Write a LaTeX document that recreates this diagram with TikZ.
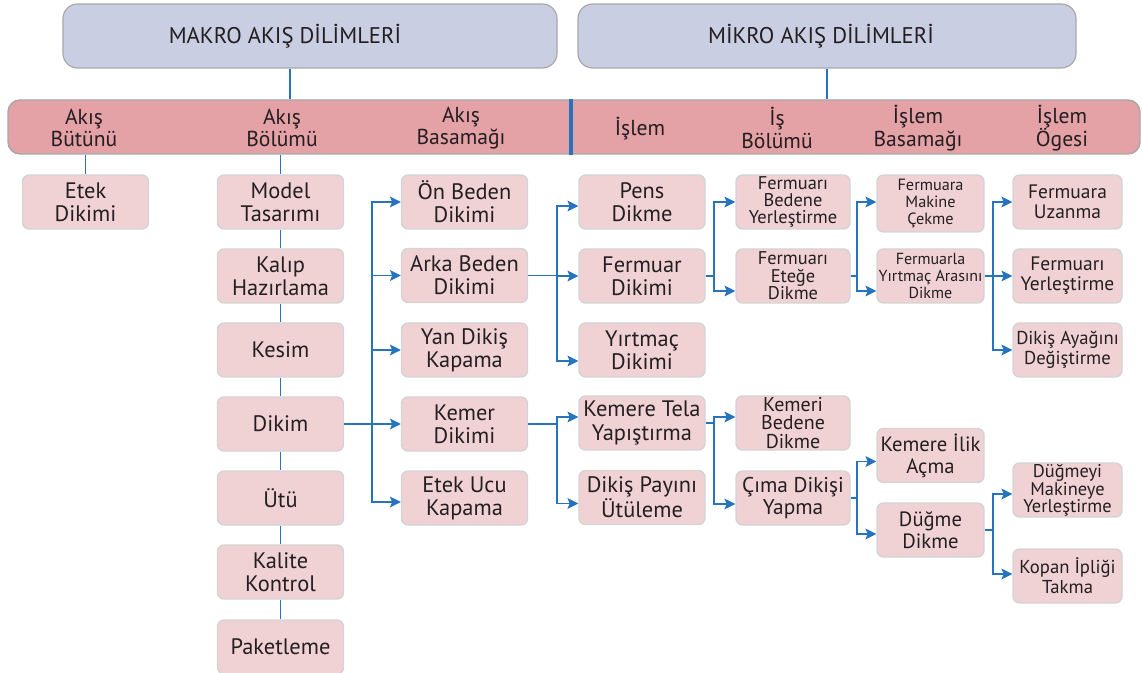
\documentclass[tikz,border=0pt]{standalone}
\usepackage{fontspec}
\setmainfont{PT Sans}
\usetikzlibrary{arrows.meta,calc}
\definecolor{topfill}{HTML}{C9CEE3}
\definecolor{barfill}{HTML}{E4A1A6}
\definecolor{boxfill}{HTML}{F1D2D4}
\definecolor{edge}{HTML}{D4D4D4}
\definecolor{hdredge}{HTML}{A8A8A8}
\definecolor{lineblue}{HTML}{2673BF}
\definecolor{txt}{HTML}{231F20}
\begin{document}
\begin{tikzpicture}[x=0.75pt,y=-0.75pt,
  bx/.style={draw=edge, line width=1.1pt, fill=boxfill, rounded corners=5pt, inner sep=0pt, align=center, text=txt, minimum height=40.5pt},
  wA/.style={minimum width=94.5pt},
  wE/.style={minimum width=85.5pt},
  wF/.style={minimum width=80.25pt},
  wG/.style={minimum width=81.75pt},
  fL/.style={font=\fontsize{16.8}{17.3}\selectfont},
  fK/.style={font=\fontsize{15.5}{16.5}\selectfont},
  fM/.style={font=\fontsize{14.6}{15.2}\selectfont},
  fS/.style={font=\fontsize{13.8}{13}\selectfont},
  fT/.style={font=\fontsize{12.2}{13}\selectfont},
  lbl/.style={align=center, text=txt, inner sep=0pt, font=\fontsize{16.2}{17}\selectfont},
  conn/.style={draw=lineblue, line width=1.1pt},
  arr/.style={draw=lineblue, line width=1.4pt, -{Stealth[length=8pt,width=8pt,inset=1.5pt]}}
]
\useasboundingbox (0,0) rectangle (1142,673);

% header boxes
\node[draw=hdredge, line width=0.9pt, fill=topfill, rounded corners=11pt, minimum width=370.5pt, minimum height=48pt, inner sep=0pt] (makro) at (310,36) {};
\node[lbl, font=\fontsize{17}{18}\selectfont] (makrot) at (285,36) {MAKRO AKIŞ DİLİMLERİ};
\node[draw=hdredge, line width=0.9pt, fill=topfill, rounded corners=11pt, minimum width=373.5pt, minimum height=48pt, inner sep=0pt] (mikro) at (827,36) {};
\node[lbl, font=\fontsize{17}{18}\selectfont] (mikrot) at (821,36) {MİKRO AKIŞ DİLİMLERİ};

% bar
\node[draw=hdredge, line width=1.1pt, fill=barfill, rounded corners=9pt, minimum width=849pt, minimum height=40.5pt, inner sep=0pt] (bar) at (574,127) {};
\coordinate (dv) at (571,0);
\draw[lineblue, line width=3pt] (bar.north -| dv) -- (bar.south -| dv);
\node[lbl] (h1) at (84,128) {Akış\\Bütünü};
\node[lbl] (h2) at (282,128) {Akış\\Bölümü};
\node[lbl] (h3) at (461,128) {Akış\\Basamağı};
\node[lbl] (h4) at (640,129) {İşlem};
\node[lbl] (h5) at (777,128) {İş\\Bölümü};
\node[lbl] (h6) at (918,128) {İşlem\\Basamağı};
\node[lbl] (h7) at (1062,128) {İşlem\\Ögesi};

% column A
\node[bx,wA,fL] (etek) at (85.5,202) {Etek\\Dikimi};
% column B
\node[bx,wA,fL] (model) at (280.5,202) {Model\\Tasarımı};
\node[bx,wA,fL] (kalip) at (280.5,276) {Kalıp\\Hazırlama};
\node[bx,wA,fL] (kesim) at (280.5,350) {Kesim};
\node[bx,wA,fL] (dikim) at (280.5,424) {Dikim};
\node[bx,wA,fL] (utu) at (280.5,498) {Ütü};
\node[bx,wA,fL] (kalite) at (280.5,572) {Kalite\\Kontrol};
\node[bx,wA,fL] (paket) at (280.5,647) {Paketleme};
% column C
\node[bx,wA,fL] (on) at (464.5,202) {Ön Beden\\Dikimi};
\node[bx,wA,fL] (arka) at (464.5,275.5) {Arka Beden\\Dikimi};
\node[bx,wA,fL] (yan) at (464.5,350) {Yan Dikiş\\Kapama};
\node[bx,wA,fL] (kemer) at (464.5,424) {Kemer\\Dikimi};
\node[bx,wA,fL] (etekucu) at (464.5,498) {Etek Ucu\\Kapama};
% column D
\node[bx,wA,fL] (pens) at (642,202) {Pens\\Dikme};
\node[bx,wA,fL] (fermuar) at (642,276) {Fermuar\\Dikimi};
\node[bx,wA,fL] (yirtmac) at (642,350) {Yırtmaç\\Dikimi};
\node[bx,wA,fL] (tela) at (642,423) {Kemere Tela\\Yapıştırma};
\node[bx,wA,fL] (payi) at (642,497.5) {Dikiş Payını\\Ütüleme};
% column E
\node[bx,wE,fS] (fbed) at (793,202) {Fermuarı\\Bedene\\Yerleştirme};
\node[bx,wE,fS] (fete) at (793,276) {Fermuarı\\Eteğe\\Dikme};
\node[bx,wE,font=\fontsize{15}{13.6}\selectfont] (kbed) at (793,423) {Kemeri\\Bedene\\Dikme};
\node[bx,wE,font=\fontsize{16}{17}\selectfont] (cima) at (793,498) {Çıma Dikişi\\Yapma};
% column F
\node[bx,wF,fT,minimum height=42.75pt] (fmak) at (930.5,203.5) {Fermuara\\Makine\\Çekme};
\node[bx,wF,font=\fontsize{12}{12.8}\selectfont] (fyirt) at (930.5,276) {Fermuarla\\Yırtmaç Arasını\\Dikme};
\node[bx,wF,fK] (ilik) at (930.5,455.5) {Kemere İlik\\Açma};
\node[bx,wF,fK] (dugme) at (930.5,530) {Düğme\\Dikme};
% column G
\node[bx,wG,fM] (uzan) at (1067.5,202) {Fermuara\\Uzanma};
\node[bx,wG,fM] (yerl) at (1067.5,276) {Fermuarı\\Yerleştirme};
\node[bx,wG,font=\fontsize{14}{15.2}\selectfont] (ayak) at (1067.5,350) {Dikiş Ayağını\\Değiştirme};
\node[bx,wG,font=\fontsize{13.8}{12.6}\selectfont] (dmak) at (1067.5,490) {Düğmeyi\\Makineye\\Yerleştirme};
\node[bx,wG,font=\fontsize{14}{15.2}\selectfont] (kopan) at (1067.5,576) {Kopan İpliği\\Takma};

% plain connectors
\coordinate (mkx) at (290,0);
\draw[conn] (makro.south -| mkx) -- (bar.north -| mkx);
\draw[conn] (mikro.south) -- (mikro.south |- bar.north);
\draw[conn] (bar.south -| etek.north) -- (etek.north);
\draw[conn] (bar.south -| model.north) -- (model.north);
\draw[conn] (model.south) -- (kalip.north);
\draw[conn] (kalip.south) -- (kesim.north);
\draw[conn] (kesim.south) -- (dikim.north);
\draw[conn] (dikim.south) -- (utu.north);
\draw[conn] (utu.south) -- (kalite.north);
\draw[conn] (kalite.south) -- (paket.north);

% arrows
\coordinate (t1) at (372,0);
\coordinate (t2) at (557,0);
\coordinate (t3) at (714,0);
\coordinate (t4) at (857,0);
\coordinate (t5) at (993,0);
\foreach \n in {on,arka,yan,kemer}
  \draw[arr] (dikim.east) -- (dikim.east -| t1) |- (\n.west);
\draw[arr] (dikim.east) -- (dikim.east -| t1) |- ($(etekucu.west)+(0,4)$);

\draw[arr] (arka.east) -- (arka.east -| t2) |- ($(pens.west)+(0,4)$);
\draw[arr] (arka.east) -- (arka.east -| t2) |- (fermuar.west);
\draw[arr] (arka.east) -- (arka.east -| t2) |- ($(yirtmac.west)+(0,11)$);

\draw[arr] (kemer.east) -- (kemer.east -| t2) |- ($(tela.west)+(0,-6)$);
\draw[arr] (kemer.east) -- (kemer.east -| t2) |- ($(payi.west)+(0,6)$);

\draw[arr] (fermuar.east) -- (fermuar.east -| t3) |- (fbed.west);
\draw[arr] (fermuar.east) -- (fermuar.east -| t3) |- ($(fete.west)+(0,15)$);

\draw[arr] (tela.east) -- (tela.east -| t3) |- ($(kbed.west)+(0,-6)$);
\draw[arr] (tela.east) -- (tela.east -| t3) |- ($(cima.west)+(0,6)$);

\draw[arr] (fete.east) -- (fete.east -| t4) |- ($(fmak.west)+(0,-1.5)$);
\draw[arr] (fete.east) -- (fete.east -| t4) |- ($(fyirt.west)+(0,15)$);

\draw[arr] (cima.east) -- (cima.east -| t4) |- ($(ilik.west)+(0,6)$);
\draw[arr] (cima.east) -- (cima.east -| t4) |- ($(dugme.west)+(0,4)$);

\draw[arr] (fyirt.east) -- (fyirt.east -| t5) |- (uzan.west);
\draw[arr] (fyirt.east) -- (fyirt.east -| t5) |- (yerl.west);
\draw[arr] (fyirt.east) -- (fyirt.east -| t5) |- (ayak.west);

\draw[arr] (dugme.east) -- (dugme.east -| t5) |- ($(dmak.west)+(0,4)$);
\draw[arr] (dugme.east) -- (dugme.east -| t5) |- ($(kopan.west)+(0,-2)$);
\end{tikzpicture}
\end{document}
